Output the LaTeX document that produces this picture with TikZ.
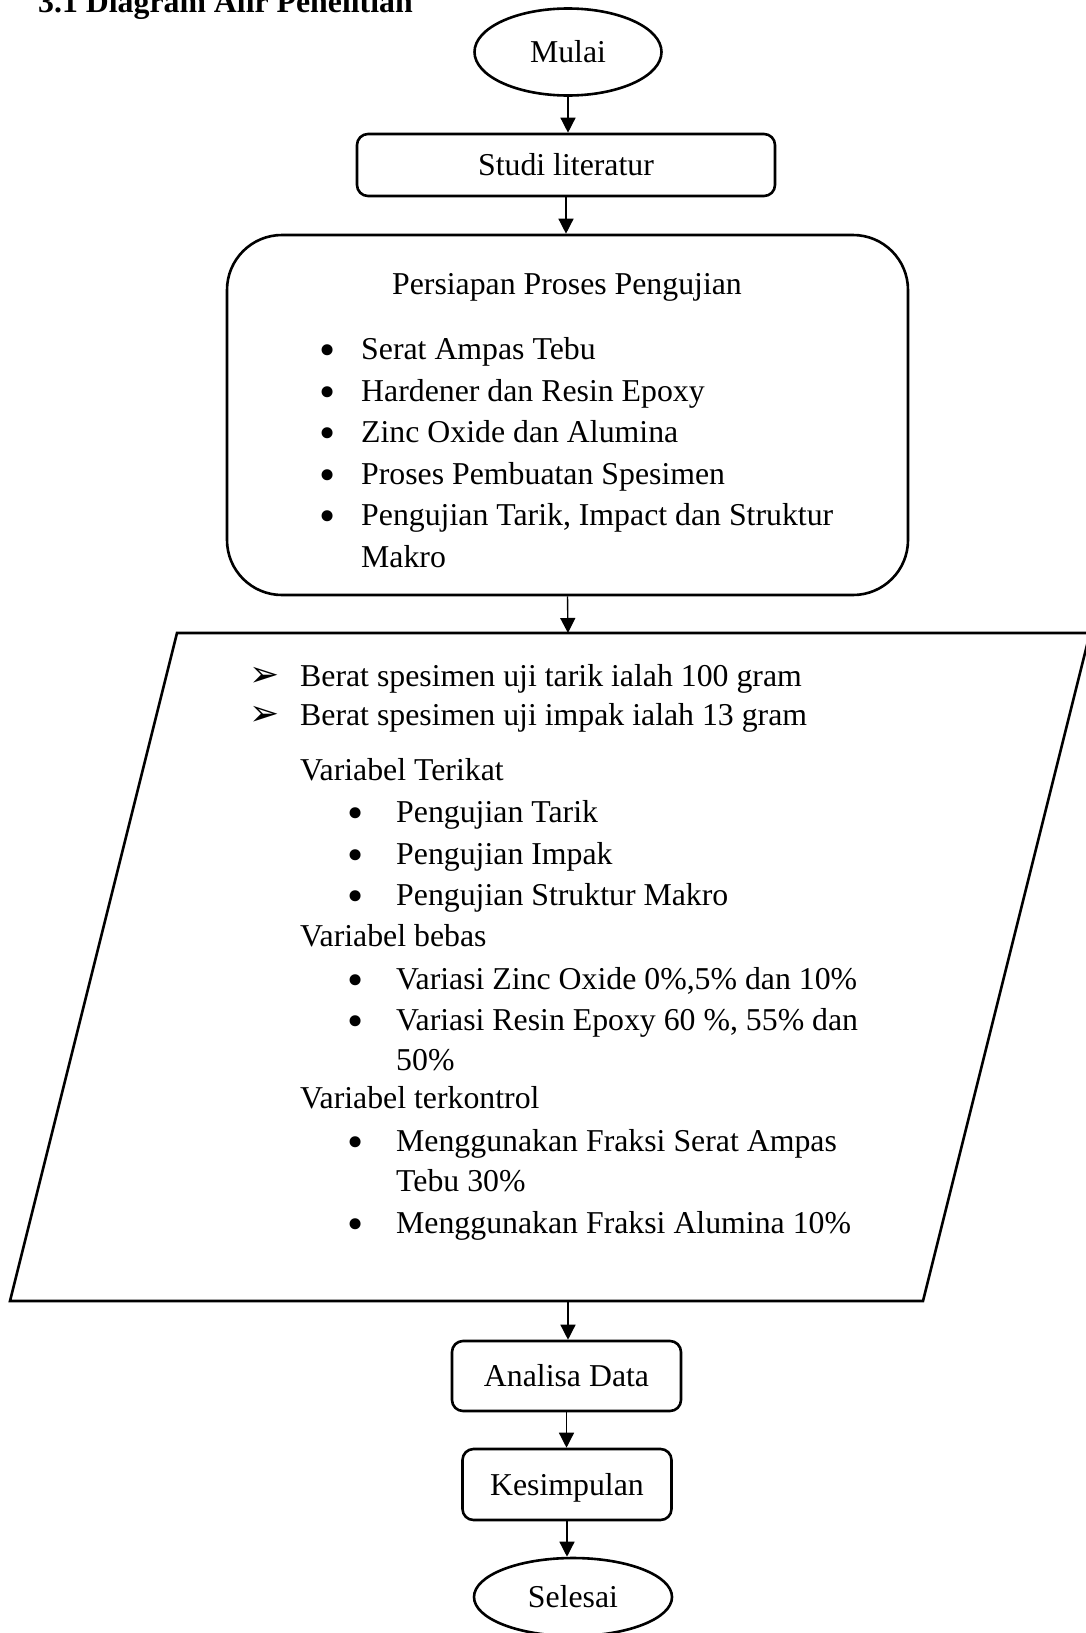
\documentclass[tikz,border=0pt]{standalone}
\usepackage{fontspec}
\usepackage{graphicx}
\setmainfont{Liberation Serif}
\newfontfamily\dejavu{DejaVu Sans}
\usetikzlibrary{shapes.geometric,arrows.meta}
\newcommand{\bigbul}{\raisebox{-6pt}{\scalebox{1.45}{•}}}
\begin{document}
\begin{tikzpicture}[x=1pt,y=-1pt,
  every node/.style={font=\fontsize{31.8}{41.6}\selectfont, inner sep=0pt},
  box/.style={draw, line width=2.6pt, rounded corners=11pt, text height=21pt, text depth=0pt},
  term/.style={draw, ellipse, line width=2.6pt, text height=21pt, text depth=0pt},
  txt/.style={anchor=base west},
  dot/.style={anchor=base, text height=14pt, text depth=0pt},
  tip/.style={anchor=base, font=\dejavu\fontsize{36}{40}\selectfont, text height=22pt, text depth=0pt},
  arr/.style={-{Triangle[width=15pt,length=15pt]}, line width=1.4pt}]
\useasboundingbox (0,0) rectangle (1086,1633);

% title
\node[anchor=base west, font=\bfseries\fontsize{31.8}{38}\selectfont] (title) at (38,12) {3.1 Diagram Alir Penelitian};

% terminals and boxes
\node[term, minimum width=187pt, minimum height=87pt] (mulai) at (568,52) {Mulai};
\node[box, minimum width=418pt, minimum height=62pt] (studi) at (566,165) {Studi literatur};
\node[box, rounded corners=55pt, minimum width=681pt, minimum height=360pt] (persiapan) at (567.5,415) {};
\node[box, minimum width=229pt, minimum height=70pt] (analisa) at (566.5,1376) {Analisa Data};
\node[box, minimum width=209pt, minimum height=71pt] (kesimpulan) at (567,1484.5) {Kesimpulan};
\node[term, minimum width=198pt, minimum height=78pt] (selesai) at (573,1597) {Selesai};

% persiapan content
\node[anchor=base] (ptitle) at (567,294) {Persiapan Proses Pengujian};
\node[dot] (pb1) at (328,359) {\bigbul};
\node[txt] (p1) at (361,359) {Serat Ampas Tebu};
\node[dot] (pb2) at (328,401) {\bigbul};
\node[txt] (p2) at (361,401) {Hardener dan Resin Epoxy};
\node[dot] (pb3) at (328,442) {\bigbul};
\node[txt] (p3) at (361,442) {Zinc Oxide dan Alumina};
\node[dot] (pb4) at (328,484) {\bigbul};
\node[txt] (p4) at (361,484) {Proses Pembuatan Spesimen};
\node[dot] (pb5) at (328,525) {\bigbul};
\node[txt] (p5) at (361,525) {Pengujian Tarik, Impact dan Struktur};
\node[txt] (p6) at (361,567) {Makro};

% parallelogram
\draw[line width=2.6pt] (177,633) -- (1090,633) -- (923,1301) -- (10,1301) -- cycle;
\coordinate (paratop) at (568,633);
\coordinate (parabot) at (568,1301);

\node[tip] (a1) at (265,686) {➢};
\node[txt] (q1) at (300,686) {Berat spesimen uji tarik ialah 100 gram};
\node[tip] (a2) at (265,725) {➢};
\node[txt] (q2) at (300,725) {Berat spesimen uji impak ialah 13 gram};
\node[txt] (v1) at (300,780) {Variabel Terikat};
\node[dot] (vb1) at (356,822) {\bigbul};
\node[txt] (v11) at (396,822) {Pengujian Tarik};
\node[dot] (vb2) at (356,864) {\bigbul};
\node[txt] (v12) at (396,864) {Pengujian Impak};
\node[dot] (vb3) at (356,905) {\bigbul};
\node[txt] (v13) at (396,905) {Pengujian Struktur Makro};
\node[txt] (v2) at (300,946) {Variabel bebas};
\node[dot] (vb4) at (356,989) {\bigbul};
\node[txt] (v21) at (396,989) {Variasi Zinc Oxide 0\%,5\% dan 10\%};
\node[dot] (vb5) at (356,1030) {\bigbul};
\node[txt] (v22) at (396,1030) {Variasi Resin Epoxy 60 \%, 55\% dan};
\node[txt] (v23) at (396,1070) {50\%};
\node[txt] (v3) at (300,1108) {Variabel terkontrol};
\node[dot] (vb6) at (356,1151) {\bigbul};
\node[txt] (v31) at (396,1151) {Menggunakan Fraksi Serat Ampas};
\node[txt] (v32) at (396,1191) {Tebu 30\%};
\node[dot] (vb7) at (356,1233) {\bigbul};
\node[txt] (v33) at (396,1233) {Menggunakan Fraksi Alumina 10\%};

% connectors
\draw[arr] (mulai.south) -- (mulai.south |- studi.north);
\draw[arr] (studi.south) -- (studi.south |- persiapan.north);
\draw[arr] (persiapan.south) -- (paratop);
\draw[arr] (parabot) -- (parabot |- analisa.north);
\draw[arr] (analisa.south) -- (analisa.south |- kesimpulan.north);
\draw[arr] (kesimpulan.south) -- (kesimpulan.south |- selesai.north);
\end{tikzpicture}
\end{document}
